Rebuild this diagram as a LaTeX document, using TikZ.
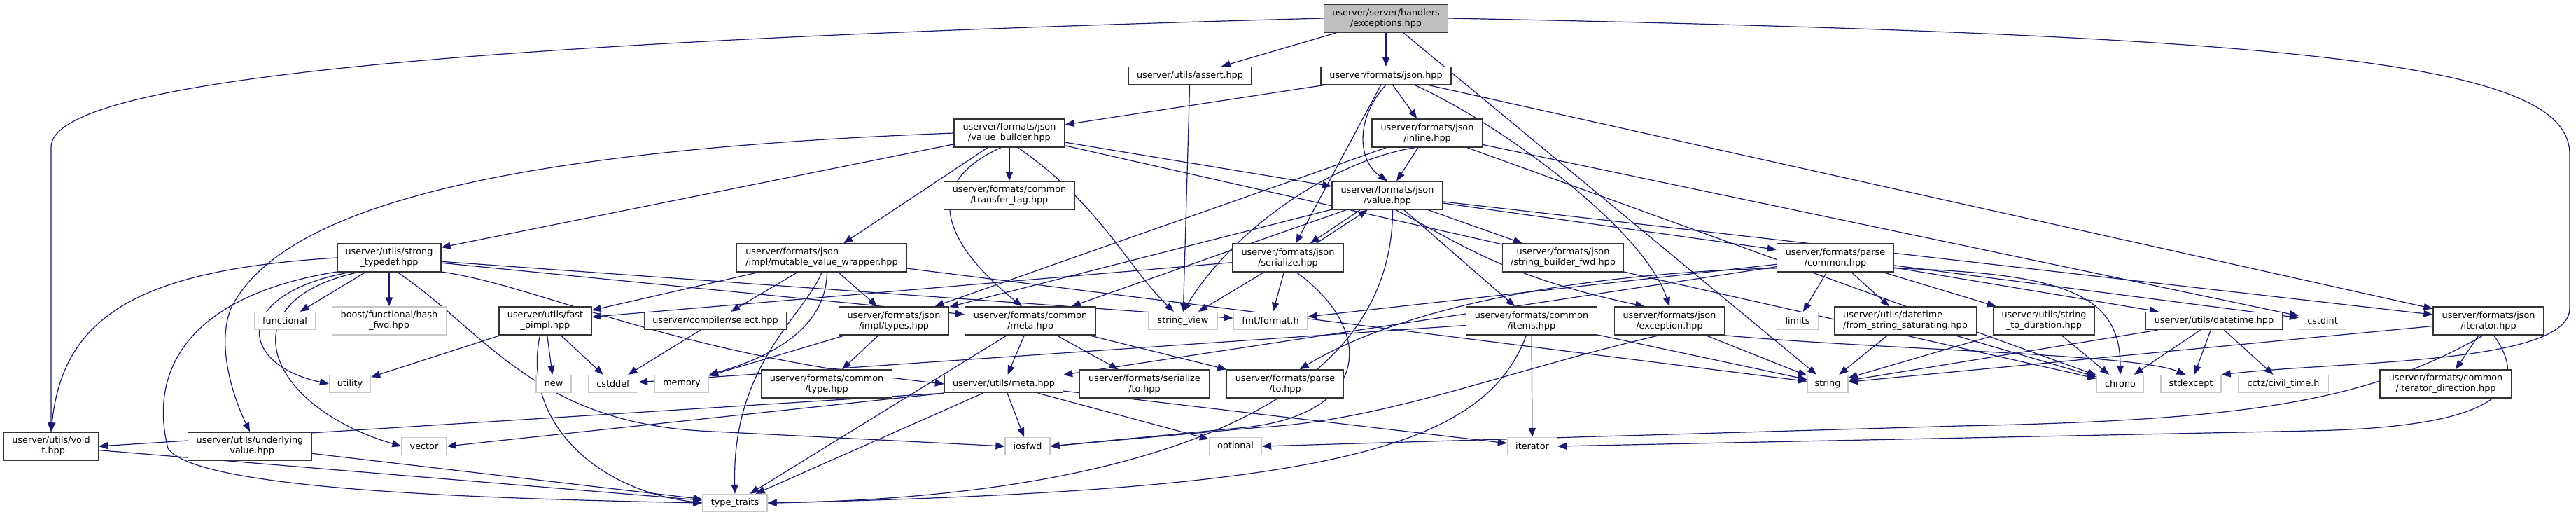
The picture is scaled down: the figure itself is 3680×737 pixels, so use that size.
\documentclass[tikz,border=0pt]{standalone}
\usepackage{fontspec}
\setmainfont{DejaVu Sans}
\usetikzlibrary{arrows.meta,backgrounds}
\definecolor{inclblue}{HTML}{191970}
\definecolor{rootfill}{HTML}{BFBFBF}
\definecolor{sysline}{HTML}{C8C8C8}

\begin{document}
\begin{tikzpicture}[x=1pt,y=-1pt,font=\fontsize{12.8}{15}\selectfont,
  filebox/.style={draw=black!80,line width=1.3pt,fill=white,inner sep=0pt,align=center,minimum height=40pt},
  onebox/.style={filebox,minimum height=25pt},
  sysbox/.style={draw=sysline,line width=1.3pt,fill=white,inner sep=0pt,align=center,minimum height=25pt},
  rootbox/.style={filebox,fill=rootfill},
  incl/.style={draw=inclblue,line width=1.2pt,-{Triangle[length=13pt,width=10pt]}}]
  \useasboundingbox (0,0) rectangle (3680,737);

  % rank 0-3
  \node[rootbox,minimum width=177pt] (root) at (1980,26) {userver/server/handlers\\/exceptions.hpp};
  \node[onebox,minimum width=176pt] (assert) at (1700,108) {userver/utils/assert.hpp};
  \node[onebox,minimum width=186pt] (json) at (1980,108) {userver/formats/json.hpp};
  \node[filebox,minimum width=158pt] (vbuilder) at (1442,190) {userver/formats/json\\/value\_builder.hpp};
  \node[filebox,minimum width=158pt] (inline) at (2039,190) {userver/formats/json\\/inline.hpp};
  \node[filebox,minimum width=187pt] (transfer) at (1442,279) {userver/formats/common\\/transfer\_tag.hpp};
  \node[filebox,minimum width=158pt] (value) at (1982,279) {userver/formats/json\\/value.hpp};

  % rank 4
  \node[filebox,minimum width=148pt] (strongtd) at (556,368) {userver/utils/strong\\\_typedef.hpp};
  \node[filebox,minimum width=243pt,align=left] (mutval) at (1174,368) {userver/formats/json\\/impl/mutable\_value\_wrapper.hpp};
  \node[filebox,minimum width=158pt] (serialize) at (1840,368) {userver/formats/json\\/serialize.hpp};
  \node[filebox,minimum width=173pt] (strbuilder) at (2233,368) {userver/formats/json\\/string\_builder\_fwd.hpp};
  \node[filebox,minimum width=167pt] (parsecommon) at (2622,368) {userver/formats/parse\\/common.hpp};

  % rank 5
  \node[sysbox,minimum width=87pt] (functional) at (407,458) {functional};
  \node[sysbox,minimum width=163pt,minimum height=40pt] (hashfwd) at (556,458) {boost/functional/hash\\\_fwd.hpp};
  \node[filebox,minimum width=132pt] (fastpimpl) at (779,458) {userver/utils/fast\\\_pimpl.hpp};
  \node[onebox,minimum width=203pt] (select) at (1022,458) {userver/compiler/select.hpp};
  \node[filebox,minimum width=157pt] (types) at (1277,458) {userver/formats/json\\/impl/types.hpp};
  \node[filebox,minimum width=187pt] (commonmeta) at (1472,458) {userver/formats/common\\/meta.hpp};
  \node[sysbox,minimum width=98pt] (stringview) at (1690,458) {string\_view};
  \node[sysbox,minimum width=106pt] (fmt) at (1815,458) {fmt/format.h};
  \node[filebox,minimum width=187pt] (items) at (2188,458) {userver/formats/common\\/items.hpp};
  \node[filebox,minimum width=157pt] (jsonexc) at (2385,458) {userver/formats/json\\/exception.hpp};
  \node[sysbox,minimum width=59pt] (limits) at (2568,458) {limits};
  \node[filebox,minimum width=203pt,align=left] (fromsat) at (2722,458) {userver/utils/datetime\\/from\_string\_saturating.hpp};
  \node[filebox,minimum width=145pt] (strtodur) at (2920,458) {userver/utils/string\\\_to\_duration.hpp};
  \node[onebox,minimum width=195pt] (datetime) at (3163,458) {userver/utils/datetime.hpp};
  \node[sysbox,minimum width=67pt] (cstdint) at (3318,458) {cstdint};
  \node[filebox,minimum width=158pt] (jsoniter) at (3555,458) {userver/formats/json\\/iterator.hpp};

  % rank 6
  \node[sysbox,minimum width=59pt] (utility) at (500,548) {utility};
  \node[sysbox,minimum width=50pt] (new) at (791,548) {new};
  \node[sysbox,minimum width=71pt] (cstddef) at (876,548) {cstddef};
  \node[sysbox,minimum width=77pt] (memory) at (974,548) {memory};
  \node[filebox,minimum width=187pt] (commontype) at (1181,548) {userver/formats/common\\/type.hpp};
  \node[onebox,minimum width=169pt] (utilsmeta) at (1434,548) {userver/utils/meta.hpp};
  \node[filebox,minimum width=186pt] (serializeto) at (1635,548) {userver/formats/serialize\\/to.hpp};
  \node[filebox,minimum width=167pt] (parseto) at (1836,548) {userver/formats/parse\\/to.hpp};
  \node[sysbox,minimum width=58pt] (string) at (2611,548) {string};
  \node[sysbox,minimum width=67pt] (chrono) at (3029,548) {chrono};
  \node[sysbox,minimum width=86pt] (stdexcept) at (3130,548) {stdexcept};
  \node[sysbox,minimum width=129pt] (cctz) at (3262,548) {cctz/civil\_time.h};
  \node[filebox,minimum width=188pt] (iterdir) at (3494,548) {userver/formats/common\\/iterator\_direction.hpp};

  % rank 7-8
  \node[filebox,minimum width=135pt] (voidt) at (73,637) {userver/utils/void\\\_t.hpp};
  \node[filebox,minimum width=177pt] (underlying) at (357,637) {userver/utils/underlying\\\_value.hpp};
  \node[sysbox,minimum width=64pt] (vector) at (606,637) {vector};
  \node[sysbox,minimum width=64pt] (iosfwd) at (1468,637) {iosfwd};
  \node[sysbox,minimum width=75pt] (optional) at (1765,637) {optional};
  \node[sysbox,minimum width=71pt] (iterator) at (2189,637) {iterator};
  \node[sysbox,minimum width=92pt] (typetraits) at (1050,718) {type\_traits};

  \begin{pgfonlayer}{background}
  \foreach \a/\b in {root/assert,root/json,root/string,assert/stringview,
    json/vbuilder,json/inline,json/serialize,json/jsoniter,
    inline/value,inline/types,inline/chrono,inline/cstdint,
    vbuilder/strongtd,vbuilder/mutval,vbuilder/transfer,vbuilder/value,vbuilder/chrono,
    value/strbuilder,value/items,value/commonmeta,value/types,value/parsecommon,value/jsoniter,
    serialize/fmt,serialize/stringview,serialize/fastpimpl,
    mutval/fastpimpl,mutval/select,mutval/types,mutval/string,
    strongtd/functional,strongtd/hashfwd,strongtd/commonmeta,strongtd/fmt,
    fastpimpl/utility,fastpimpl/new,fastpimpl/cstddef,select/cstddef,
    types/commontype,types/memory,
    commonmeta/utilsmeta,commonmeta/serializeto,commonmeta/parseto,commonmeta/typetraits,
    utilsmeta/iosfwd,utilsmeta/optional,utilsmeta/iterator,utilsmeta/typetraits,
    items/iterator,items/string,items/cstddef,jsonexc/string,
    parsecommon/limits,parsecommon/fromsat,parsecommon/strtodur,parsecommon/datetime,
    parsecommon/cstdint,parsecommon/utilsmeta,parsecommon/fmt,
    fromsat/string,fromsat/chrono,strtodur/string,strtodur/chrono,
    datetime/string,datetime/chrono,datetime/stdexcept,datetime/cctz,
    jsoniter/iterdir,jsoniter/string,voidt/typetraits,underlying/typetraits}
    \draw[incl] (\a) -- (\b);

  % routed around other boxes
  \draw[incl] (root.west) .. controls (700,58) and (73,110) .. (73,210) -- (voidt.north);
  \draw[incl] (root.east) .. controls (3300,50) and (3671,90) .. (3671,220) -- (3671,440)
    .. controls (3671,520) and (3350,515) .. (stdexcept.north east);
  \draw[incl] (json.south) .. controls (1935,170) and (1940,230) .. (value.north);
  \draw[incl] (json.-18) .. controls (2150,180) and (2350,330) .. (jsonexc.north);
  \draw[incl] (inline.230) .. controls (1900,230) and (1760,330) .. (stringview.north);
  \draw[incl] (vbuilder.240) .. controls (1320,260) and (1340,340) .. (commonmeta.120);
  \draw[incl] (vbuilder.300) .. controls (1570,290) and (1610,380) .. (stringview.135);
  \draw[incl] (vbuilder.west) .. controls (700,215) and (400,300) .. (330,440)
    .. controls (310,490) and (330,560) .. (underlying.north);
  \draw[incl] (value.208) -- (serialize.33);
  \draw[incl] (serialize.27) -- (value.216);
  \draw[incl] (value.-70) .. controls +(0,330) and (1500,712) .. (typetraits.east);
  \draw[incl] (value.300) .. controls (2090,350) and (2150,395) .. (jsonexc.150);
  \draw[incl] (serialize.300) .. controls (1965,470) and (1960,590) .. (1780,610) -- (iosfwd.east);
  \draw[incl] (mutval.290) .. controls (1180,470) and (1100,510) .. (memory.north east);
  \draw[incl] (mutval.south) .. controls (1150,450) and (1045,520) .. (typetraits.north);
  \draw[incl] (strongtd.west) .. controls (200,385) and (90,450) .. (voidt.north);
  \draw[incl] (strongtd.200) .. controls (330,420) and (340,520) .. (utility.west);
  \draw[incl] (strongtd.205) .. controls (320,430) and (380,580) .. (vector.west);
  \draw[incl] (strongtd.195) .. controls (280,420) and (210,520) .. (240,640)
    .. controls (280,700) and (700,712) .. (typetraits.west);
  \draw[incl] (strongtd.345) .. controls (780,410) and (950,505) .. (utilsmeta.west);
  \draw[incl] (strongtd.300) .. controls (690,470) and (760,600) .. (1000,615) -- (iosfwd.west);
  \draw[incl] (fastpimpl.250) .. controls (745,600) and (850,700) .. (typetraits.west);
  \draw[incl] (utilsmeta.south west) -- (voidt.east);
  \draw[incl] (utilsmeta.south west) -- (vector.east);
  \draw[incl] (items.250) .. controls (2120,640) and (1900,700) .. (typetraits.east);
  \draw[incl] (jsonexc.345) .. controls (2700,500) and (3050,505) .. (stdexcept.120);
  \draw[incl] (jsonexc.235) .. controls (2150,530) and (1980,600) .. (1800,610) -- (iosfwd.east);
  \draw[incl] (parsecommon.-10) .. controls (2950,390) and (3029,420) .. (chrono.north);
  \draw[incl] (parsecommon.190) .. controls (2250,390) and (2000,440) .. (parseto.45);
  \draw[incl] (jsoniter.250) .. controls (3380,575) and (3200,600) .. (2800,608) -- (optional.east);
  \draw[incl] (jsoniter.290) .. controls (3620,560) and (3560,610) .. (3300,615) -- (iterator.east);
  \end{pgfonlayer}
\end{tikzpicture}
\end{document}
